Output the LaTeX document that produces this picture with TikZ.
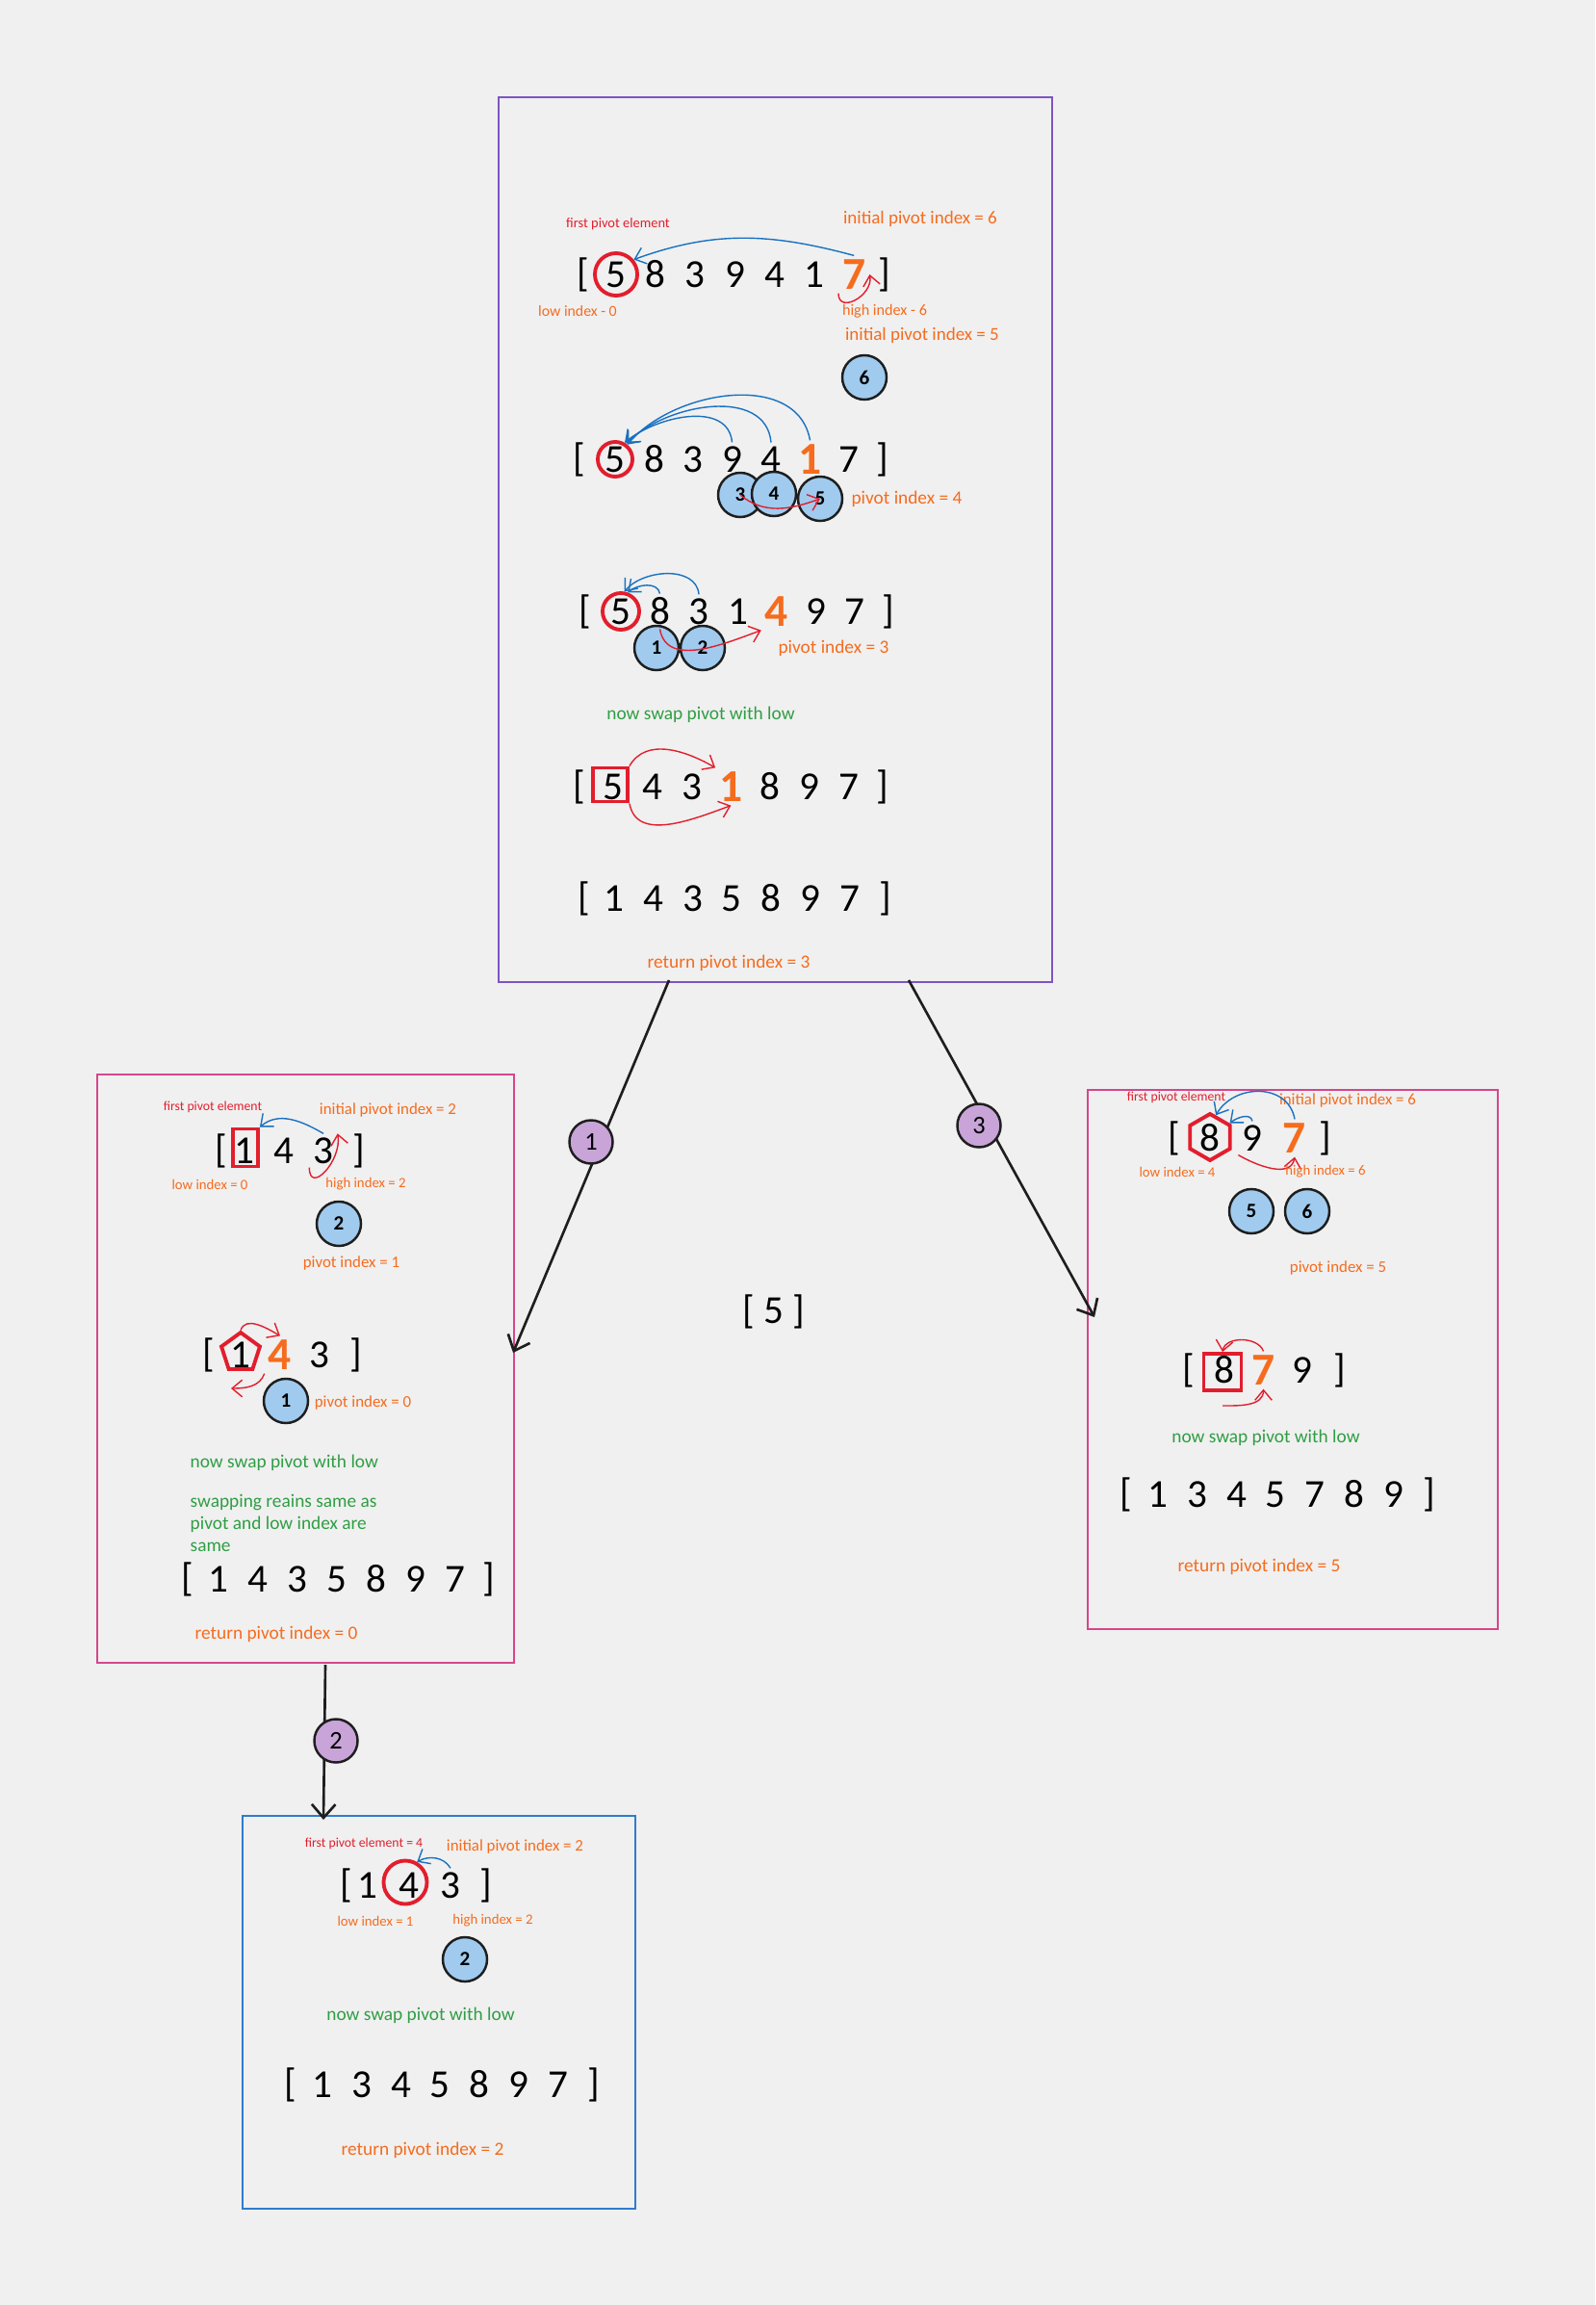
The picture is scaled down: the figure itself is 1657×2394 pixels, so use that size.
\documentclass[tikz,border=0pt]{standalone}
\usepackage{fontspec}
\setmainfont{Carlito}
\usepackage{tikz}
\usetikzlibrary{shapes.geometric,arrows.meta}
\definecolor{pagegray}{RGB}{240,240,240}
\definecolor{sketchorange}{RGB}{245,108,30}
\definecolor{sketchred}{RGB}{226,30,45}
\definecolor{sketchgreen}{RGB}{47,158,68}
\definecolor{sketchblue}{RGB}{25,113,194}
\definecolor{markerblue}{RGB}{160,203,238}
\definecolor{markerpurple}{RGB}{200,164,216}
\definecolor{markerline}{RGB}{30,30,30}
\definecolor{framepurple}{RGB}{125,85,195}
\definecolor{framepink}{RGB}{214,70,140}
\definecolor{frameblue}{RGB}{45,125,205}
\newcommand{\hl}[1]{\textcolor{sketchorange}{\fontsize{13.5}{14}\selectfont\bfseries #1}}

\begin{document}
\begin{tikzpicture}[x=0.01cm, y=-0.01cm,
    digit/.style={font=\fontsize{11.7}{14}\selectfont, inner sep=1pt},
    lbl/.style={text=sketchorange, font=\fontsize{4.8}{5.8}\selectfont, inner sep=0pt},
    lblsm/.style={text=sketchorange, font=\fontsize{4.2}{5}\selectfont, inner sep=0pt},
    lblbig/.style={text=sketchorange, font=\fontsize{5.5}{6.6}\selectfont, inner sep=0pt},
    note/.style={text=sketchgreen, font=\fontsize{5.5}{6.6}\selectfont, inner sep=0pt},
    firstpiv/.style={text=sketchred, font=\fontsize{3.9}{4.7}\selectfont, inner sep=0pt},
    marker/.style={circle, draw=markerline, line width=0.7pt, fill=markerblue, minimum size=0.46cm, inner sep=0pt, font=\fontsize{6}{7}\selectfont\bfseries},
    stepmark/.style={circle, draw=markerline, line width=0.7pt, fill=markerpurple, minimum size=0.45cm, inner sep=0pt, font=\fontsize{7.5}{8}\selectfont},
    ring/.style={circle, draw=sketchred, line width=1.1pt, inner sep=0pt},
    pivbox/.style={rectangle, draw=sketchred, line width=1.1pt, inner sep=0pt},
    boxframe/.style={line width=0.45pt},
    conn/.style={draw=markerline, line width=0.75pt, -{Straight Barb[length=4pt,width=7pt]}},
    bluearr/.style={draw=sketchblue, line width=0.4pt, -{Straight Barb[length=3pt,width=5pt]}},
    redarr/.style={draw=sketchred, line width=0.4pt, -{Straight Barb[length=3pt,width=5pt]}}
  ]
  \fill[pagegray] (0,0) rectangle (1657,2394);

  % frames
  \draw[boxframe, framepurple] (518,101) rectangle (1093,1020);
  \draw[boxframe, framepink] (101,1116) rectangle (534,1727);
  \draw[boxframe, framepink] (1130,1132) rectangle (1556,1692);
  \draw[boxframe, frameblue] (252,1886) rectangle (660,2294);

  % ---- first call: whole array
  \node[firstpiv, font=\fontsize{4.1}{5}\selectfont] (a-fpe) at (642,233) {first pivot element};
  \node[lblbig, font=\fontsize{5.4}{6.5}\selectfont] (a-init) at (956,227) {initial pivot index = 6};
  \node[digit] (a0) at (606,285) {[};
  \foreach \d [count=\i] in {5,8,3,9,4,1,\hl{7}}
    \node[digit] (a\i) at ({598.8+41.2*\i},285) {\d};
  \node[digit] (a8) at (919,285) {]};
  \node[ring, minimum size=0.44cm] (a1r) at (a1) {};
  \draw[bluearr] (a7.north) to[out=165,in=20] (a1r.40);
  \draw[redarr] (a7.south west) to[out=-90,in=-80,looseness=1.5] (a7.east);
  \node[lblsm, font=\fontsize{4.5}{5.4}\selectfont] (a-low) at (600,323) {low index - 0};
  \node[lblsm, font=\fontsize{4.6}{5.5}\selectfont] (a-high) at (919,323) {high index - 6};
  \node[lblbig, font=\fontsize{5.4}{6.5}\selectfont] (a-init2) at (958,348) {initial pivot index = 5};
  \node[marker] (tm6) at (898,392) {6};

  \node[digit] (b0) at (602,477) {[};
  \foreach \d [count=\i] in {5,8,3,9,4,\hl{1},7}
    \node[digit] (b\i) at ({598.5+40.5*\i},477) {\d};
  \node[digit] (b8) at (917,477) {]};
  \node[ring, minimum size=0.36cm] (b1r) at (b1) {};
  \draw[bluearr] (b4.north) to[out=95,in=40] (b1r.60);
  \draw[bluearr] (b5.north) to[out=95,in=45] (b1r.55);
  \draw[bluearr] (b6.north) to[out=100,in=50] (b1r.50);
  \node[marker] (tm3) at (769,514) {3};
  \node[marker] (tm4) at (804,513) {4};
  \node[marker] (tm5) at (852,518) {5};
  \draw[redarr] (tm3.center) to[out=-40,in=200] (tm5.center);
  \node[lblbig] (b-piv) at (942,518) {pivot index = 4};

  \node[digit] (c0) at (608,635) {[};
  \foreach \d [count=\i] in {5,8,3,1,\hl{4},9,7}
    \node[digit] (c\i) at ({604.5+40.5*\i},635) {\d};
  \node[digit] (c8) at (923,635) {]};
  \node[ring, minimum size=0.38cm] (c1r) at (c1) {};
  \draw[bluearr] (c2.north) to[out=100,in=40] (c1r.70);
  \draw[bluearr] (c3.north) to[out=95,in=50] (c1r.80);
  \node[marker] (tm1) at (682,673) {1};
  \node[marker] (tm2) at (730,673) {2};
  \draw[redarr] (c2.south) to[out=-80,in=200] (c5.south west);
  \node[lblbig] (c-piv) at (866,673) {pivot index = 3};
  \node[note] (c-note) at (728,742) {now swap pivot with low};

  \node[digit] (d0) at (602,817) {[};
  \foreach \d [count=\i] in {5,4,3,\hl{1},8,9,7}
    \node[digit] (d\i) at ({596.2+40.8*\i},817) {\d};
  \node[digit] (d8) at (917,817) {]};
  \node[pivbox, minimum width=0.36cm, minimum height=0.35cm] (d1b) at (634,815) {};
  \draw[redarr] (d1b.north east) to[out=60,in=150] (d4.north west);
  \draw[redarr] (d1b.south east) to[out=-80,in=200] (d4.south);

  \node[digit] (e0) at (607,933) {[};
  \foreach \d [count=\i] in {1,4,3,5,8,9,7}
    \node[digit] (e\i) at ({597.2+40.8*\i},933) {\d};
  \node[digit] (e8) at (920,933) {]};
  \node[lblbig] (e-ret) at (757,1000) {return pivot index = 3};

  \node[digit] (mid) at (804,1362) {[ 5 ]};

  % ---- recursion steps
  \coordinate (top-l) at (695,1018);
  \coordinate (top-r) at (944,1018);
  \coordinate (left-in) at (533,1405);
  \coordinate (right-in) at (1137,1368);
  \coordinate (left-out) at (338,1729);
  \coordinate (bottom-in) at (336,1890);
  \draw[conn] (top-l) -- (left-in);
  \draw[conn] (top-r) -- (right-in);
  \draw[conn] (left-out) -- (bottom-in);
  \node[stepmark] (s1) at (614,1186) {1};
  \node[stepmark] (s3) at (1017,1169) {3};
  \node[stepmark] (s2) at (349,1808) {2};

  % ---- left part [1 4 3]
  \node[firstpiv] (f-fpe) at (221,1150) {first pivot element};
  \node[lbl] (f-init) at (403,1153) {initial pivot index = 2};
  \node[digit] (f0) at (230,1195) {[};
  \foreach \d [count=\i] in {1,4,3}
    \node[digit] (f\i) at ({213+41*\i},1195) {\d};
  \node[digit] (f4) at (373,1195) {]};
  \node[pivbox, minimum width=0.26cm, minimum height=0.39cm] (f1b) at (255,1192) {};
  \draw[bluearr] (f3.north) to[out=150,in=40] (f1b.north east);
  \draw[redarr] (f3.south west) to[out=-90,in=-80,looseness=1.6] (f3.north east);
  \node[lblsm] (f-low) at (218,1230) {low index = 0};
  \node[lblsm] (f-high) at (380,1230) {high index = 2};
  \node[marker] (lm2) at (352,1271) {2};
  \node[lbl] (f-piv) at (365,1312) {pivot index = 1};

  \node[digit] (g0) at (217,1407) {[};
  \foreach \d [count=\i] in {1,\hl{4},3}
    \node[digit] (g\i) at ({209+41*\i},1407) {\d};
  \node[digit] (g4) at (370,1407) {]};
  \node[regular polygon, regular polygon sides=5, draw=sketchred, line width=1.1pt, minimum size=0.42cm, inner sep=0pt] (g1p) at (250,1405) {};
  \coordinate (g-back) at (240,1442);
  \draw[redarr] (g1p.corner 1) to[out=70,in=150] (g2.north);
  \draw[redarr] (g2.south west) to[out=-110,in=0] (g-back);
  \node[marker] (lm1) at (297,1455) {1};
  \node[lbl] (g-piv) at (377,1457) {pivot index = 0};
  \node[note, anchor=west] (h-note) at (197,1519) {now swap pivot with low};
  \node[note, anchor=west, align=left] (h-note2) at (197,1582) {swapping reains same as\\pivot and low index are\\same};

  \node[digit] (h0) at (195,1640) {[};
  \foreach \d [count=\i] in {1,4,3,5,8,9,7}
    \node[digit] (h\i) at ({186+41*\i},1640) {\d};
  \node[digit] (h8) at (508,1640) {]};
  \node[lblbig] (h-ret) at (287,1697) {return pivot index = 0};

  % ---- right part [8 9 7]
  \node[firstpiv] (p-fpe) at (1222,1140) {first pivot element};
  \node[lbl] (p-init) at (1400,1143) {initial pivot index = 6};
  \node[digit] (p0) at (1220,1182) {[};
  \foreach \d [count=\i] in {8,9,\hl{7}}
    \node[digit] (p\i) at ({1213+44*\i},1182) {\d};
  \node[digit] (p4) at (1377,1182) {]};
  \node[regular polygon, regular polygon sides=6, regular polygon rotate=30, draw=sketchred, line width=1.1pt, minimum size=0.48cm, inner sep=0pt] (p1h) at (1257,1181) {};
  \draw[bluearr] (p3.north) to[out=100,in=60,looseness=1.2] (p1h.75);
  \draw[bluearr] (p2.north) to[out=100,in=40] (p1h.35);
  \draw[redarr] (p2.south west) to[out=-30,in=-100] (p3.south);
  \node[lblsm] (p-low) at (1223,1217) {low index = 4};
  \node[lblsm] (p-high) at (1377,1217) {high index = 6};
  \node[marker] (rm5) at (1300,1258) {5};
  \node[marker] (rm6) at (1358,1258) {6};
  \node[lbl] (p-piv) at (1390,1317) {pivot index = 5};

  \node[digit] (q0) at (1235,1423) {[};
  \foreach \d [count=\i] in {8,\hl{7},9}
    \node[digit] (q\i) at ({1231.5+40.5*\i},1423) {\d};
  \node[digit] (q4) at (1392,1423) {]};
  \node[pivbox, minimum width=0.39cm, minimum height=0.38cm] (q1b) at (1270,1425) {};
  \draw[redarr] (q2.north) to[out=110,in=80] (q1b.north);
  \draw[redarr] ([yshift=-4pt]q1b.south) to[out=0,in=-90] (q2.south);
  \node[note] (q-note) at (1315,1493) {now swap pivot with low};

  \node[digit] (s0) at (1170,1552) {[};
  \foreach \d [count=\i] in {1,3,4,5,7,8,9}
    \node[digit] (s\i) at ({1162.2+40.8*\i},1552) {\d};
  \node[digit] (s8) at (1485,1552) {]};
  \node[lblbig] (s-ret) at (1308,1627) {return pivot index = 5};

  % ---- bottom part [1 4 3]
  \node[firstpiv] (u-fpe) at (378,1915) {first pivot element = 4};
  \node[lbl] (u-init) at (535,1918) {initial pivot index = 2};
  \node[digit] (u0) at (360,1958) {[};
  \foreach \d [count=\i] in {1,4,3}
    \node[digit] (u\i) at ({339+43*\i},1958) {\d};
  \node[digit] (u4) at (505,1958) {]};
  \node[ring, minimum size=0.45cm] (u2r) at (421,1955) {};
  \draw[bluearr] (u3.north) to[out=120,in=30] (u2r.60);
  \node[lblsm] (u-low) at (390,1995) {low index = 1};
  \node[lblsm] (u-high) at (512,1995) {high index = 2};
  \node[marker] (bm2) at (483,2035) {2};
  \node[note] (u-note) at (437,2093) {now swap pivot with low};

  \node[digit] (v0) at (302,2165) {[};
  \foreach \d [count=\i] in {1,3,4,5,8,9,7}
    \node[digit] (v\i) at ({294.2+40.8*\i},2165) {\d};
  \node[digit] (v8) at (617,2165) {]};
  \node[lblbig] (v-ret) at (439,2233) {return pivot index = 2};
\end{tikzpicture}
\end{document}
